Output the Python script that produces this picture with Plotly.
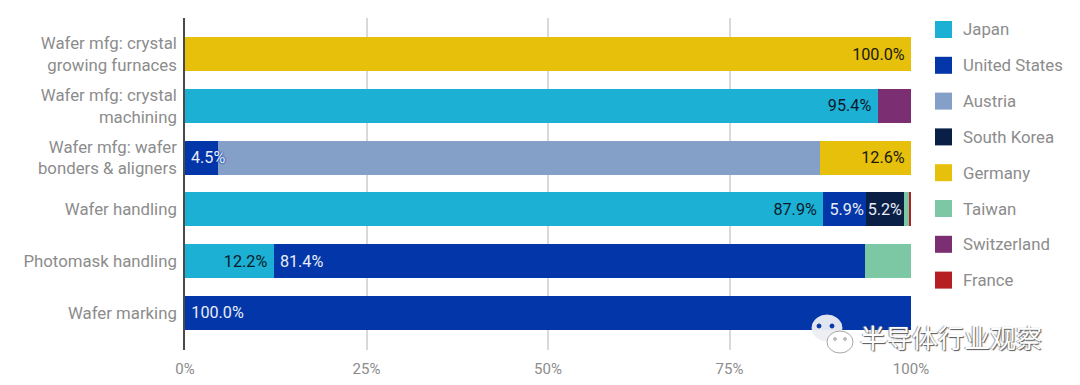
import plotly.graph_objects as go

categories = ["Wafer mfg: crystal<br>growing furnaces", "Wafer mfg: crystal<br>machining",
              "Wafer mfg: wafer<br>bonders & aligners", "Wafer handling",
              "Photomask handling", "Wafer marking"]
countries = ["Japan", "United States", "Austria", "South Korea", "Germany", "Taiwan", "Switzerland", "France"]
colors = ["#1CB0D4", "#0336A8", "#85A0C8", "#0A1F45", "#E6C00A", "#7CC8A4", "#7B2E72", "#B61E22"]

japan = [0, 95.4, 0, 87.9, 12.2, 0]
united_states = [0, 0, 4.5, 5.9, 81.4, 100.0]
austria = [0, 0, 82.9, 0, 0, 0]
south_korea = [0, 0, 0, 5.2, 0, 0]
germany = [100.0, 0, 12.6, 0, 0, 0]
taiwan = [0, 0, 0, 0.7, 6.4, 0]
switzerland = [0, 4.6, 0, 0, 0, 0]
france = [0, 0, 0, 0.3, 0, 0]
series = [japan, united_states, austria, south_korea, germany, taiwan, switzerland, france]

labelled = {"Japan": ("end", "#0A1A2A", "", "\u2009"), "United States": ("start", "#E8EEF8", "\u2009", ""),
            "South Korea": ("middle", "#E8EEF8", "", ""), "Germany": ("end", "#1A1A10", "", "\u2009")}

W, H = 1080, 385
L, R, T, B = 185, 911, 18, 350
FONT = "Roboto"
GRAY = "#8C8C8C"
LABEL_SIZE = 16.2
OVERFLOW_MAX = 5  # a label on a segment this short would be hidden by the next segment

shapes, annotations = [], []

fig = go.Figure()
for name, vals, col in zip(countries, series, colors):
    anchor, tcol, pre, post = labelled.get(name, ("middle", "#000000", "", ""))
    text = []
    for cat, v in zip(categories, vals):
        if name in labelled and v > 0:
            if name == "United States" and v < OVERFLOW_MAX:
                text.append("")
                annotations.append(dict(text=f"{v:.1f}%", x=0, y=cat, xref="x", yref="y", xanchor="left",
                                        yanchor="middle", xshift=4, showarrow=False,
                                        font=dict(family=FONT, size=LABEL_SIZE, color=tcol,
                                                  shadow=f"0px 0px 2px {col}, 0px 0px 2px {col}")))
            else:
                text.append(f"{pre}{v:.1f}%{post}")
        else:
            text.append("")
    fig.add_trace(go.Bar(
        name=name, y=categories, x=vals, orientation="h", marker=dict(color=col, line_width=0),
        text=text, textposition="inside", insidetextanchor=anchor, textangle=0,
        constraintext="none", cliponaxis=False,
        textfont=dict(family=FONT, size=LABEL_SIZE, color=tcol), showlegend=False, hoverinfo="x+name"))


def px(x):
    return (x - L) / (R - L)


def py(y):
    return (B - y) / (B - T)


# legend built as square swatches with even spacing
for i, (name, col) in enumerate(zip(countries, colors)):
    yc = 29.5 + i * 35.8
    shapes.append(dict(type="rect", xref="paper", yref="paper", x0=px(935), x1=px(952),
                       y0=py(yc + 8.5), y1=py(yc - 8.5), fillcolor=col, line_width=0))
    annotations.append(dict(text=name, xref="paper", yref="paper", x=px(961), y=py(yc), xanchor="left",
                            yanchor="middle", showarrow=False,
                            font=dict(family=FONT, size=16.8, color=GRAY)))


def ell(cx, cy, rx, ry, fill, line=None, op=1.0):
    shapes.append(dict(type="circle", xref="paper", yref="paper", x0=px(cx - rx), x1=px(cx + rx),
                       y0=py(cy + ry), y1=py(cy - ry), fillcolor=fill, opacity=op,
                       line=dict(color=line or fill, width=1)))


# watermark
ell(827, 328, 15, 13, "#EDEFF3", op=0.95)
ell(819, 326, 2, 2, "#0336A8")
ell(832, 326, 2, 2, "#0336A8")
ell(840, 342, 13, 11, "#FFFFFF", line="#A8A8A8")
ell(835, 339, 1.5, 1.5, "#BDBDBD")
ell(845, 339, 1.5, 1.5, "#BDBDBD")
annotations.append(dict(text="半导体行业观察", xref="paper", yref="paper", x=px(858), y=py(336),
                        xanchor="left", yanchor="middle", showarrow=False,
                        font=dict(family="Noto Sans CJK SC", size=26, color="#FFFFFF",
                                  shadow="1px 1px 1px #555, -1px 0px 1px #999")))

fig.update_layout(
    barmode="stack", bargap=0.34, width=W, height=H, autosize=False,
    margin=dict(l=L, r=W - R, t=T, b=H - B, pad=0, autoexpand=False),
    paper_bgcolor="#FFFFFF", plot_bgcolor="#FFFFFF",
    font=dict(family=FONT, color=GRAY),
    uniformtext=dict(mode=False),
    shapes=shapes, annotations=annotations,
    xaxis=dict(range=[0, 100], tickvals=[0, 25, 50, 75, 100], ticktext=["0%", "25%", "50%", "75%", "100%"],
               showgrid=True, gridcolor="#D9D9D9", gridwidth=1.5, zeroline=False, showline=False,
               ticks="outside", ticklen=5, tickcolor="rgba(0,0,0,0)", automargin=False,
               tickfont=dict(family=FONT, size=15, color=GRAY)),
    yaxis=dict(type="category", categoryorder="array", categoryarray=categories, range=[5.72, -0.7],
               showgrid=False, zeroline=False, showline=True, linecolor="#4A4A4A", linewidth=1.5,
               ticks="outside", ticklen=3, tickcolor="rgba(0,0,0,0)", automargin=False,
               tickfont=dict(family=FONT, size=16.8, color=GRAY)),
)

fig.write_html("out.html", config=dict(displayModeBar=False),
               post_script="document.body.style.margin='0';document.documentElement.style.overflow='hidden';")
